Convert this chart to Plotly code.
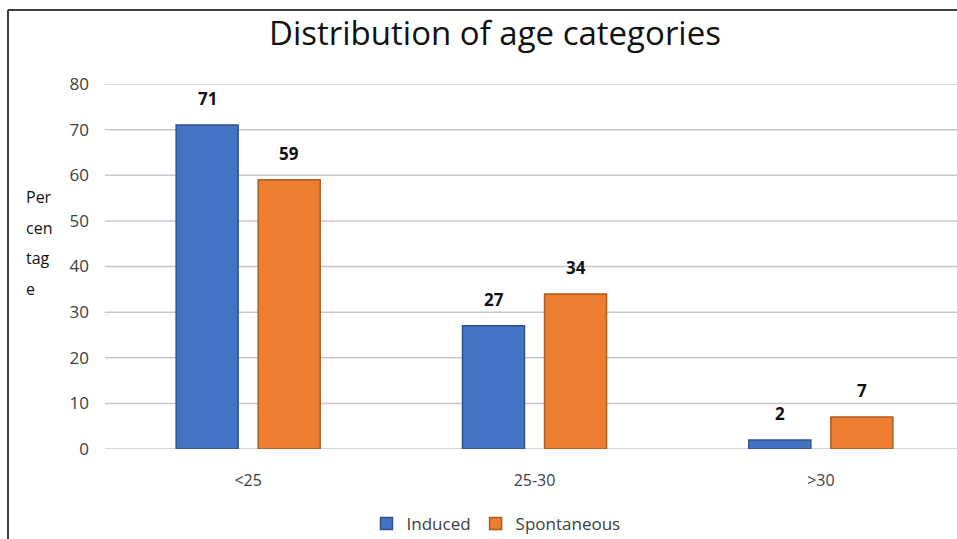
import plotly.graph_objects as go

categories = ["<25", "25-30", ">30"]
induced = [71, 27, 2]
spontaneous = [59, 34, 7]
series_names = ["Induced", "Spontaneous"]
y_ticks = [0, 10, 20, 30, 40, 50, 60, 70, 80]
y_title_lines = ["Per", "cen", "tag", "e"]

FONT = "'Open Sans', Lato, sans-serif"
BLUE = "#4472C4"
BLUE_EDGE = "#2F528F"
ORANGE = "#ED7D31"
ORANGE_EDGE = "#AE5A21"
GRID = "#C8C8C8"

fig = go.Figure()
fig.add_trace(go.Bar(x=categories, y=induced, name=series_names[0],
                     marker=dict(color=BLUE, line=dict(color=BLUE_EDGE, width=1.5))))
fig.add_trace(go.Bar(x=categories, y=spontaneous, name=series_names[1],
                     marker=dict(color=ORANGE, line=dict(color=ORANGE_EDGE, width=1.5))))

annotations = []
for vals, xs in ((induced, -41), (spontaneous, 41)):
    for c, v in zip(categories, vals):
        annotations.append(dict(x=c, y=v, xref="x", yref="y", text=f"<b>{v}</b>",
                                showarrow=False, xshift=xs, yshift=13, yanchor="bottom",
                                font=dict(family=FONT, size=17, color="#111111")))

# y-axis title (wrapped as in the reference)
for i, t in enumerate(y_title_lines):
    annotations.append(dict(xref="paper", yref="paper", x=(24 - 105) / 852,
                            y=(449 - (197 + 30.5 * i)) / 365,
                            xanchor="left", yanchor="middle", showarrow=False, align="left",
                            text=t, font=dict(family=FONT, size=16, color="#111111")))

# horizontal gridlines reaching the right edge of the picture (drawn below the bars)
shapes = [dict(type="line", xref="paper", yref="y", x0=0, x1=1.05, y0=t, y1=t, layer="below",
               line=dict(color=GRID, width=1.5)) for t in y_ticks]
shapes += [
    dict(type="line", xref="paper", yref="paper", x0=(8 - 105) / 852, x1=(8 - 105) / 852,
         y0=(449 - 10) / 365, y1=(449 - 545) / 365, line=dict(color="#404040", width=2)),
    dict(type="line", xref="paper", yref="paper", x0=(8 - 105) / 852, x1=1.1,
         y0=(449 - 10) / 365, y1=(449 - 10) / 365, line=dict(color="#404040", width=2)),
]

fig.update_layout(
    width=957, height=539,
    margin=dict(l=105, r=0, t=84, b=90, autoexpand=False),
    paper_bgcolor="white", plot_bgcolor="white",
    barmode="group", bargap=0.427, bargroupgap=0.244,
    title=dict(text="Distribution of age categories", x=495 / 957, xanchor="center",
               y=1 - 33 / 539, yanchor="middle",
               font=dict(family=FONT, size=33, color="#111111")),
    font=dict(family=FONT, size=16, color="#404040"),
    xaxis=dict(showgrid=False, showline=False, range=[-0.5, 2.4755],
               ticks="", ticklabelstandoff=20, tickfont=dict(size=16, color="#404040")),
    yaxis=dict(range=[0, 80], tickvals=y_ticks, showgrid=False, zeroline=False,
               ticks="", ticklabelstandoff=15, tickfont=dict(size=17, color="#404040")),
    legend=dict(orientation="h", x=(496 - 105) / 852, xanchor="center",
                y=(449 - 524) / 365, yanchor="middle",
                font=dict(family=FONT, size=17, color="#404040"), traceorder="normal"),
    annotations=annotations,
    shapes=shapes,
)

fig.write_html("out.html")
